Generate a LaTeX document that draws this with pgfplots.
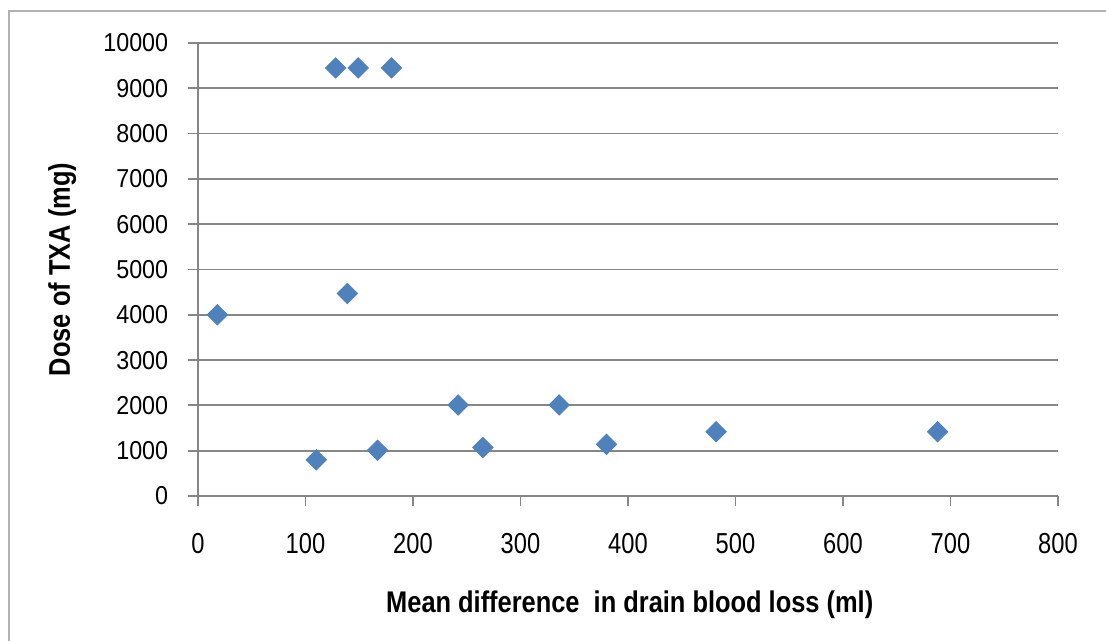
\documentclass[border=0pt]{standalone}
\usepackage{fontspec}
\setmainfont{Liberation Sans}
\newfontfamily\narrowbold[FakeStretch=0.85]{Liberation Sans Bold}
\newfontfamily\ytickfont[FakeStretch=0.9]{Liberation Sans}
\newfontfamily\xtickfont[FakeStretch=0.82]{Liberation Sans}
\usepackage{pgfplots}
\pgfplotsset{compat=1.18}

\definecolor{markblue}{RGB}{79,129,189}
\definecolor{gridgray}{RGB}{134,134,134}

\begin{document}
\begin{tikzpicture}
% page 1106x641 px, 1 px = 0.5bp
\path[use as bounding box] (0,0) rectangle (553bp,320.5bp);
\draw[gray!60, line width=0.8bp] (4.5bp,0) -- (4.5bp,315bp) -- (553bp,315bp);
\begin{axis}[
    at={(99bp,72.5bp)}, anchor=origin,
    scale only axis,
    width=430bp, height=226.5bp,
    xmin=0, xmax=800, ymin=0, ymax=10000,
    xtick={0,100,...,800},
    ytick={0,1000,...,10000},
    scaled y ticks=false,
    axis lines*=left,
    axis line style={gridgray, line width=0.9bp, -},
    tick style={gridgray, line width=0.9bp},
    tick align=outside,
    major tick length=5bp,
    ymajorgrids,
    grid style={gridgray, line width=0.9bp},
    /pgf/number format/assume math mode=true,
    /pgf/number format/1000 sep={},
    xticklabel style={font=\xtickfont\fontsize{14.5}{16}\selectfont, anchor=center, yshift=-18.9bp},
    yticklabel style={font=\ytickfont\fontsize{13}{15}\selectfont, xshift=-6.4bp},
    xlabel={\narrowbold\fontsize{15}{17}\selectfont Mean difference\ \ in drain blood loss (ml)},
    ylabel={\narrowbold\fontsize{15}{17}\selectfont Dose of TXA (mg)},
    xlabel style={at={(axis description cs:0.502,-0.2406)}, anchor=center},
    ylabel style={at={(axis description cs:-0.158,0.5)}, anchor=center},
]
\addplot[only marks, mark=square*, mark size=3.6bp,
    mark options={rotate=45, fill=markblue, draw=markblue}] coordinates {
    (18, 4000)
    (110, 800)
    (128, 9450)
    (149, 9450)
    (180, 9450)
    (139, 4470)
    (167, 1010)
    (242, 2010)
    (265, 1070)
    (336, 2010)
    (380, 1140)
    (482, 1420)
    (688, 1420)
};
\end{axis}
\end{tikzpicture}
\end{document}
